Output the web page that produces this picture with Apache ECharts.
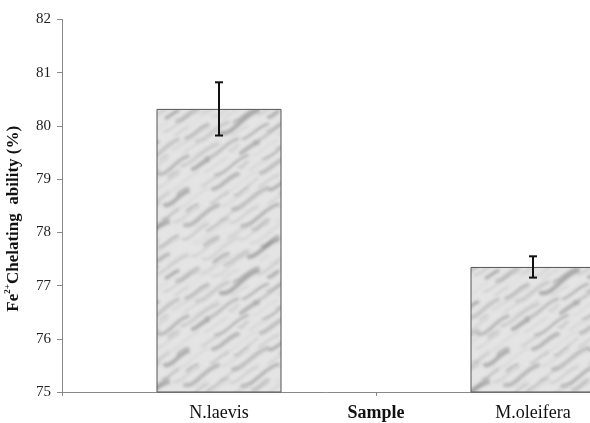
<!DOCTYPE html>
<html><head><meta charset="utf-8">
<script src="https://cdn.jsdelivr.net/npm/echarts@6/dist/echarts.min.js"></script>
<style>html,body{margin:0;padding:0;background:#fff}#c{width:590px;height:423px}</style>
</head><body><div id="c"></div>
<script>
var categories = ['N.laevis', 'M.oleifera'];
var meanValues = [80.32, 77.35];
var errValues = [0.5, 0.2];
var yTicks = [75, 76, 77, 78, 79, 80, 81, 82];

// marble-like texture (decorative only), tiled seamlessly
function makeTexture() {
  var S = 160;
  var c = document.createElement('canvas');
  c.width = S; c.height = S;
  var g = c.getContext('2d');
  g.fillStyle = '#e4e4e4';
  g.fillRect(0, 0, S, S);
  g.lineCap = 'round';
  g.filter = 'blur(1.5px)';
  for (var i = 0; i < 110; i++) {
    var x0 = (i * 47) % S, y0 = (i * 71) % S;
    var len = 8 + (i * 13) % 30;
    var shade = 95 + (i * 29) % 120;
    g.strokeStyle = 'rgba(' + shade + ',' + shade + ',' + shade + ',0.45)';
    g.lineWidth = 1 + (i % 4);
    for (var ox = -1; ox <= 1; ox++) {
      for (var oy = -1; oy <= 1; oy++) {
        var x = x0 + ox * S, y = y0 + oy * S;
        g.beginPath();
        g.moveTo(x, y);
        g.bezierCurveTo(x + len * 0.3, y + (i % 7) - 3, x + len * 0.6, y - len * 0.5, x + len, y - len * 0.6);
        g.stroke();
      }
    }
  }
  g.filter = 'none';
  return c;
}
var tex = makeTexture();

var chart = echarts.init(document.getElementById('c'), null, {renderer: 'canvas'});
var serif = '"Liberation Serif", "DejaVu Serif", serif';
chart.setOption({
  animation: false,
  grid: {left: 62, top: 19.5, width: 628, height: 372.5, containLabel: false, outerBoundsMode: 'none'},
  xAxis: {
    type: 'category',
    data: categories,
    name: 'Sample',
    nameLocation: 'middle',
    nameGap: 12,
    nameMoveOverlap: false,
    nameTextStyle: {fontFamily: serif, fontWeight: 'bold', fontSize: 18, color: '#111'},
    axisLine: {lineStyle: {color: '#888', width: 1}},
    axisTick: {show: true, length: 4, lineStyle: {color: '#888'}},
    axisLabel: {fontFamily: serif, fontSize: 18, color: '#111', margin: 12}
  },
  yAxis: {
    type: 'value',
    min: yTicks[0],
    max: yTicks[yTicks.length - 1],
    interval: 1,
    name: '{b|Fe}{s|2+}{b|Chelating  ability (%)}',
    nameLocation: 'middle',
    nameGap: 37,
    nameMoveOverlap: false,
    nameTextStyle: {
      padding: [0, 26, 0, 0],
      rich: {
        b: {fontFamily: serif, fontWeight: 'bold', fontSize: 17, color: '#111'},
        s: {fontFamily: serif, fontWeight: 'bold', fontSize: 9, color: '#111', verticalAlign: 'bottom', padding: [0, 0, 13, 0]}
      }
    },
    splitLine: {show: false},
    axisLine: {show: true, lineStyle: {color: '#888', width: 1}},
    axisTick: {show: true, length: 5, lineStyle: {color: '#888'}},
    axisLabel: {fontFamily: serif, fontSize: 15, color: '#222', margin: 11}
  },
  series: [
    {
      type: 'bar',
      data: meanValues,
      barWidth: 125,
      itemStyle: {
        color: {image: tex, repeat: 'repeat'},
        borderColor: '#555',
        borderWidth: 1
      }
    },
    {
      type: 'custom',
      data: meanValues.map(function (v, i) { return [i, v - errValues[i], v + errValues[i]]; }),
      renderItem: function (params, api) {
        var lo = api.coord([api.value(0), api.value(1)]);
        var hi = api.coord([api.value(0), api.value(2)]);
        var x = lo[0], w = 4;
        var st = {stroke: '#111', lineWidth: 2};
        return {type: 'group', children: [
          {type: 'line', shape: {x1: x, y1: lo[1], x2: x, y2: hi[1]}, style: st},
          {type: 'line', shape: {x1: x - w, y1: lo[1], x2: x + w, y2: lo[1]}, style: st},
          {type: 'line', shape: {x1: x - w, y1: hi[1], x2: x + w, y2: hi[1]}, style: st}
        ]};
      },
      z: 10
    }
  ]
});
</script></body></html>
